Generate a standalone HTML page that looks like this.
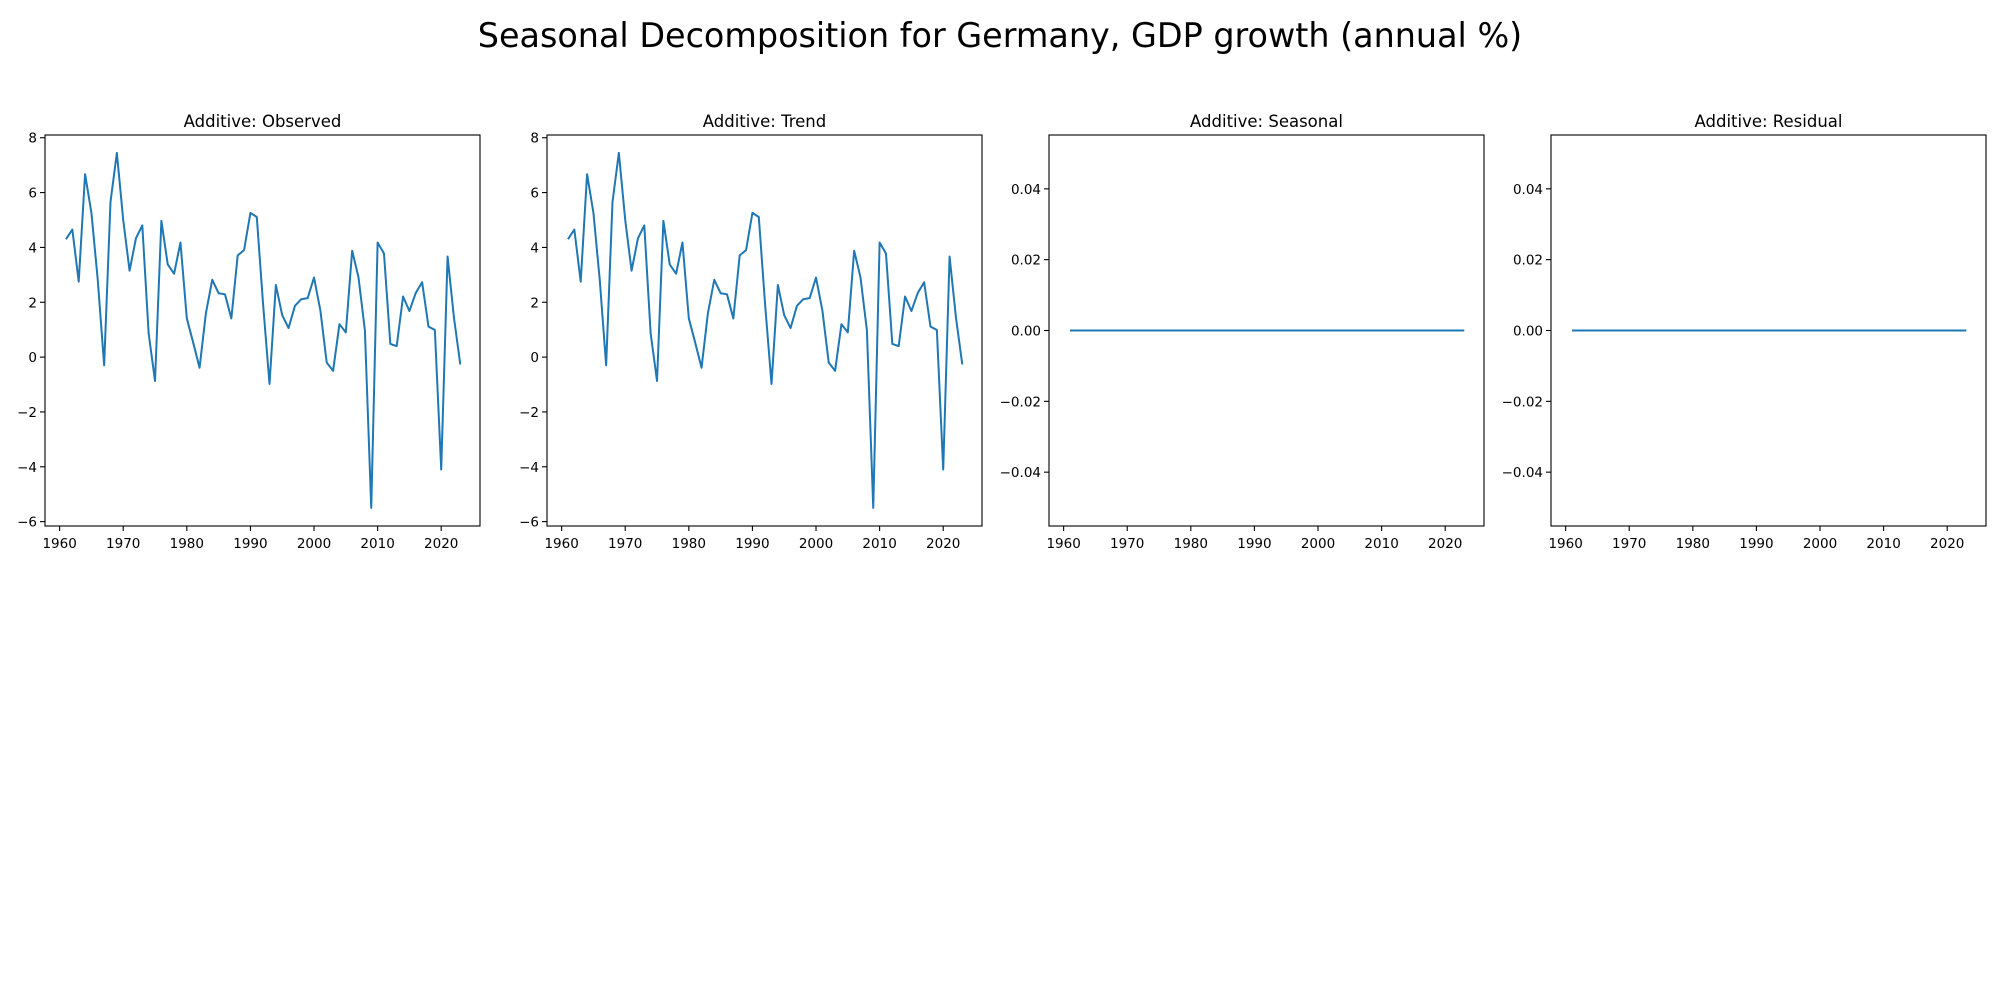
<!DOCTYPE html>
<html><head><meta charset="utf-8"><style>
body{margin:0;background:#fff;}
svg{display:block;font-family:"DejaVu Sans","Liberation Sans",sans-serif;}
</style></head><body>
<svg id="fig" width="2000" height="1000" xmlns="http://www.w3.org/2000/svg">
<rect width="2000" height="1000" fill="#fff"/>
<text x="1000" y="47" font-size="33.4" text-anchor="middle">Seasonal Decomposition for Germany, GDP growth (annual %)</text>
</svg>
<script>
const years = [];
for (let y = 1961; y <= 2023; y++) years.push(y);
const observed = [4.3,4.65,2.75,6.67,5.26,2.8,-0.3,5.66,7.45,5.0,3.15,4.33,4.8,0.86,-0.87,4.97,3.38,3.04,4.18,1.41,0.53,-0.39,1.6,2.82,2.33,2.29,1.41,3.71,3.9,5.26,5.11,1.9,-0.98,2.63,1.53,1.06,1.87,2.11,2.15,2.9,1.7,-0.2,-0.5,1.2,0.9,3.88,2.9,0.98,-5.5,4.18,3.78,0.48,0.4,2.21,1.68,2.34,2.73,1.11,0.99,-4.1,3.67,1.45,-0.27];
const trend = observed.slice();
const seasonal = years.map(() => 0);
const residual = years.map(() => 0);
const xTicks = [1960,1970,1980,1990,2000,2010,2020];
const bigTicks = [-6,-4,-2,0,2,4,6,8];
const smallTicks = [-0.04,-0.02,0,0.02,0.04];
const smallTickLabels = ["\u22120.04","\u22120.02","0.00","0.02","0.04"];

const NS = "http://www.w3.org/2000/svg";
const svg = document.getElementById('fig');
function mk(tag, attrs, parent) {
  const e = document.createElementNS(NS, tag);
  for (const k in attrs) e.setAttribute(k, attrs[k]);
  (parent || svg).appendChild(e);
  return e;
}
const panels = [
  {name:'observed', title:'Additive: Observed', left:45, data:observed, ylim:[-6.16,8.1], ticks:bigTicks, labels:bigTicks.map(v=>v<0?'\u2212'+(-v):String(v))},
  {name:'trend', title:'Additive: Trend', left:547, data:trend, ylim:[-6.16,8.1], ticks:bigTicks, labels:bigTicks.map(v=>v<0?'\u2212'+(-v):String(v))},
  {name:'seasonal', title:'Additive: Seasonal', left:1049, data:seasonal, ylim:[-0.0552,0.0552], ticks:smallTicks, labels:smallTickLabels},
  {name:'residual', title:'Additive: Residual', left:1551, data:residual, ylim:[-0.0552,0.0552], ticks:smallTicks, labels:smallTickLabels}
];
const W = 435, TOP = 135, BOT = 526, XMIN = 1957.7, XMAX = 2026.1;
panels.forEach(p => {
  const g = mk('g', {});
  
  
  const xs = v => p.left + (v - XMIN) / (XMAX - XMIN) * W;
  const ys = v => BOT - (v - p.ylim[0]) / (p.ylim[1] - p.ylim[0]) * (BOT - TOP);
  const t = mk('text', {x: p.left + W/2, y: TOP - 8, 'font-size': 16.5, 'text-anchor':'middle'}, g);
  t.textContent = p.title;
  
  
  xTicks.forEach(v => {
    const x = xs(v);
    const l = mk('line', {x1:x, x2:x, y1:BOT, y2:BOT+5, stroke:'#000', 'stroke-width':1.1}, g);
    
    
    const tl = mk('text', {x:x, y:BOT+22, 'font-size':13.5, 'text-anchor':'middle'}, g);
    tl.textContent = v;
    
    
  });
  p.ticks.forEach((v, i) => {
    const y = ys(v);
    const l = mk('line', {x1:p.left-5, x2:p.left, y1:y, y2:y, stroke:'#000', 'stroke-width':1.1}, g);
    
    
    const tl = mk('text', {x:p.left-8, y:y+5, 'font-size':13.5, 'text-anchor':'end'}, g);
    tl.textContent = p.labels[i];
    
    
  });
  const pts = years.map((yr, i) => xs(yr).toFixed(2) + ',' + ys(p.data[i]).toFixed(2)).join(' ');
  const line = mk('polyline', {points:pts, fill:'none', stroke:'#1f77b4', 'stroke-width':2, 'stroke-linejoin':'round'}, g);
  
  
  const fr = mk('rect', {x:p.left, y:TOP, width:W, height:BOT-TOP, fill:'none', stroke:'#000', 'stroke-width':1.1}, g);
  
  
});
</script>
</body></html>
